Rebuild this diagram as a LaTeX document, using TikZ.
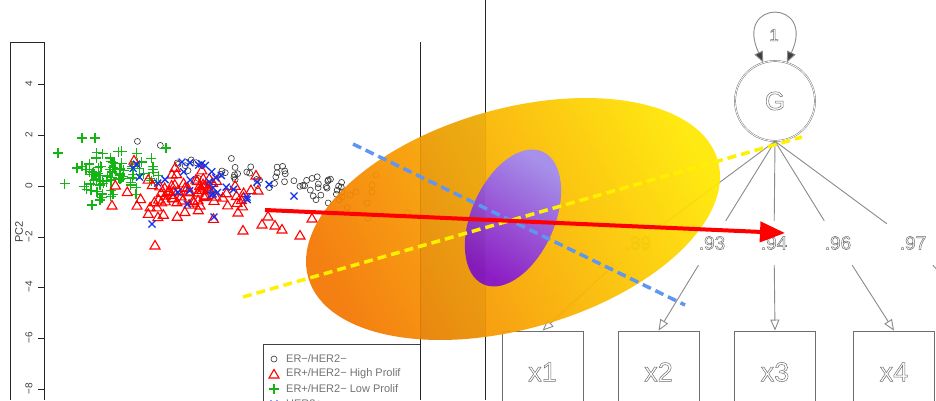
\documentclass[tikz,border=0pt]{standalone}
\usepackage{fontspec}
\setmainfont{Liberation Sans}
\usetikzlibrary{arrows.meta}
\definecolor{gcol}{RGB}{20,180,20}
\definecolor{bcol}{RGB}{20,50,235}
\definecolor{oraDark}{RGB}{244,118,0}
\definecolor{oraMid}{RGB}{255,180,0}
\definecolor{oraTop}{RGB}{255,232,0}
\definecolor{purDark}{RGB}{135,22,205}
\definecolor{purTop}{RGB}{162,142,245}
\definecolor{yelDash}{RGB}{255,240,0}
\definecolor{bluDash}{RGB}{95,150,240}
\definecolor{semgray}{RGB}{110,110,110}
\newcommand\outltext[1]{\special{pdf:literal direct 1 Tr 0.5 w}#1\special{pdf:literal direct 0 Tr}}
\tikzset{
  framel/.style={draw=black!85, line width=0.7pt},
  semnode/.style={draw=semgray, double=white, double distance=0.8pt, line width=0.45pt, text=semgray},
  semline/.style={draw=semgray!80, line width=0.9pt},
  semarrow/.style={semline, -{Triangle[open, length=11pt, width=9pt, fill=white]}},
  lbl/.style={fill=white, minimum width=52pt, minimum height=44pt, inner sep=0pt, text=semgray, font=\fontsize{19}{19}\selectfont},
  obs/.style={draw=semgray, line width=0.8pt, text=semgray, rectangle, minimum width=81pt, minimum height=82pt, inner sep=0pt, font=\fontsize{27}{27}\selectfont},
  legtxt/.style={anchor=west, inner sep=0pt, text=black!55, font=\fontsize{11}{11}\selectfont},
  ticktxt/.style={rotate=90, inner sep=0pt, text=black!75, font=\fontsize{10}{10}\selectfont},
  gp/.pic={\draw[gcol, line width=1.3pt] (-5,0)--(5,0) (0,-5)--(0,5);},
  rt/.pic={\draw[red, line width=1.1pt, line join=miter] (0,4.5)--(-5,-4)--(5,-4)--cycle;},
  bx/.pic={\draw[bcol, line width=1.3pt] (-3.5,-3.5)--(3.5,3.5) (-3.5,3.5)--(3.5,-3.5);},
  kc/.pic={\draw[black!80, line width=0.6pt] (0,0) circle (3);},
}
\begin{document}
\begin{tikzpicture}[x=1pt,y=1pt]
\useasboundingbox (0,0) rectangle (936,-400);
\clip (0,0) rectangle (936,-400);
\fill[white] (0,0) rectangle (936,-400);

% ---------- plot frame ----------
\draw[framel] (10,-42) -- (10,-400);
\draw[framel] (10,-42) -- (44,-42);
\draw[framel] (44,-42) -- (44,-400);
\draw[framel] (420,-42) -- (420,-400);
\draw[framel] (485,0) -- (485,-400);
\foreach \v/\yy [count=\k] in {4/84,2/135,0/186,−2/237,−4/287,−6/338,−8/389}{
  \draw[framel] (38,-\yy) -- (44,-\yy);
  \node[ticktxt] (tk\k) at (29,-\yy) {\v};
}
\node[ticktxt, font=\fontsize{11}{11}\selectfont] (pc2) at (19,-232) {PC2};

% ---------- scatter ----------
\pgfmathsetseed{4711}
\foreach \i in {1,...,60}{
  \pgfmathsetmacro\u{rnd}
  \pgfmathsetmacro\px{125+225*sqrt(\u)}
  \pgfmathsetmacro\py{-(156+0.17*(\px-130)+10*(rand+rand))}
  \pic at (\px,\py) {kc};
}
\foreach \p in {(342,-197),(350,-195),(356,-192),(368,-218),(372,-192),(367,-203),(407,-213),(372,-185),(376,-175)}{
  \pic at \p {kc};
}
\foreach \i in {1,...,80}{
  \pgfmathsetmacro\px{113+22*(rand+rand+rand)}
  \pgfmathsetmacro\py{-172-11*(rand+rand+rand)}
  \pic at (\px,\py) {gp};
}
\foreach \p in {(58,-153),(82,-138),(95,-138),(92,-205),(100,-200),(166,-148)}{
  \pic at \p {gp};
}
\foreach \i in {1,...,80}{
  \pgfmathsetmacro\px{180+32*(rand+rand+rand)+30*rnd}
  \pgfmathsetmacro\py{-194-10*(rand+rand+rand)}
  \pic at (\px,\py) {rt};
}
\foreach \p in {(155,-245),(243,-230),(262,-224),(300,-235),(282,-229),(312,-218),(268,-216),(275,-225),(258,-190),(238,-212),(256,-175),(134,-160),(112,-205)}{
  \pic at \p {rt};
}
\foreach \i in {1,...,26}{
  \pgfmathsetmacro\px{205+30*(rand+rand+rand)}
  \pgfmathsetmacro\py{-182-10*(rand+rand+rand)}
  \pic at (\px,\py) {bx};
}
\foreach \p in {(152,-224),(214,-217),(182,-162),(294,-196),(257,-182),(247,-197)}{
  \pic at \p {bx};
}

% ---------- legend ----------
\draw[framel, draw=black!75] (263,-410) -- (263,-344) -- (420,-344);
\pic at (274,-359) {kc};
\pic at (274,-374) {rt};
\pic at (274,-389) {gp};
\pic at (274,-404) {bx};
\node[legtxt] (lg1) at (286,-359) {ER−/HER2−};
\node[legtxt] (lg2) at (286,-374) {ER+/HER2− High Prolif};
\node[legtxt] (lg3) at (286,-389) {ER+/HER2− Low Prolif};
\node[legtxt] (lg4) at (286,-404) {HER2+};

% ---------- SEM diagram ----------
\node[semnode, circle, minimum size=80pt, inner sep=0pt, font=\fontsize{26}{26}\selectfont] (G) at (775,-101) {\outltext{G}};
\node[text=semgray, inner sep=0pt, font=\fontsize{17}{17}\selectfont] (one) at (774,-35) {\outltext{1}};
\draw[semline, {Triangle[length=11pt, width=9pt, fill=black!75]}-{Triangle[length=11pt, width=9pt, fill=black!75]}]
  (G.107) .. controls +(-30,64) and +(30,64) .. (G.73);
\node[lbl] (l1) at (638,-243) {\outltext{.89}};
\node[lbl] (l2) at (712,-243) {\outltext{.93}};
\node[lbl] (l3) at (774,-243) {\outltext{.94}};
\node[lbl] (l4) at (838,-243) {\outltext{.96}};
\node[lbl] (l5) at (913,-243) {\outltext{.97}};
\node[obs] (x1) at (542.5,-372) {\outltext{x1}};
\node[obs] (x2) at (658.5,-372) {\outltext{x2}};
\node[obs] (x3) at (775,-372) {\outltext{x3}};
\node[obs] (x4) at (894,-372) {\outltext{x4}};
\coordinate (x5) at (992,-331);
\foreach \l in {l1,l2,l3,l4,l5}{
  \draw[semline] (G.south) -- (\l);
}
\draw[semarrow] (l1) -- (x1.north);
\draw[semarrow] (l2) -- (x2.north);
\draw[semarrow] (l3) -- (x3.north);
\draw[semarrow] (l4) -- (x4.north);
\draw[semarrow] (l5) -- (x5);

% ---------- ellipses ----------
\shade[opacity=0.93, bottom color=oraDark, middle color=oraMid, top color=oraTop, shading angle=-62,
  rotate around={16:(513,-219)}] (513,-219) ellipse [x radius=213, y radius=110];
\shade[opacity=0.95, bottom color=purDark, top color=purTop, shading angle=-32,
  rotate around={66:(513,-218)}] (513,-218) ellipse [x radius=72.6, y radius=41.6];
\begin{scope}
  \clip[rotate around={16:(513,-219)}] (513,-219) ellipse [x radius=213, y radius=110];
  \fill[black, opacity=0.05] (420,0) rectangle (485,-400);
\end{scope}

% ---------- dashed axes and arrow ----------
\coordinate (bA) at (353,-144);
\coordinate (bB) at (685,-305);
\coordinate (yA) at (243,-297);
\coordinate (yB) at (802,-137);
\coordinate (rA) at (265,-210);
\coordinate (rB) at (785,-233);
\draw[bluDash, line width=3.5pt, dash pattern=on 9pt off 5pt] (bA) -- (bB);
\draw[yelDash, line width=3.5pt, dash pattern=on 9pt off 5pt] (yA) -- (yB);
\draw[red, line width=4pt, -{Triangle[length=25pt, width=20pt]}] (rA) -- (rB);
\end{tikzpicture}
\end{document}
